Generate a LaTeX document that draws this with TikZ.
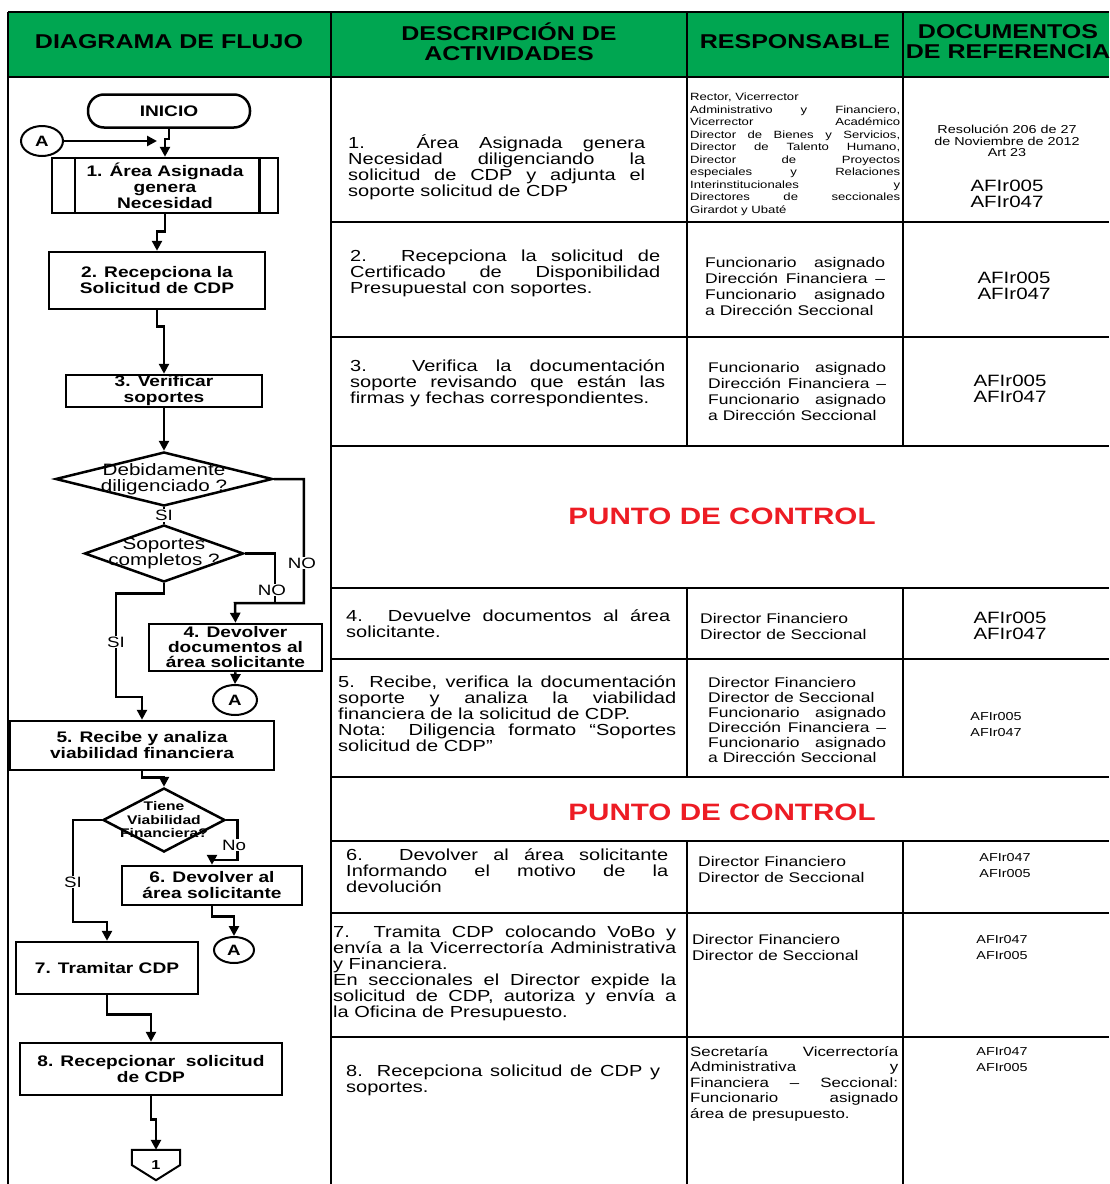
\documentclass[tikz,border=0pt]{standalone}
\usepackage{fontspec}
\setmainfont{Liberation Sans}[FakeStretch=1.25]
\usetikzlibrary{shapes.geometric,arrows.meta}

\definecolor{cabecera}{RGB}{0,166,81}
\definecolor{control}{RGB}{237,28,36}

\newcommand{\tam}[2]{\fontsize{#1}{#2}\selectfont}
\hyphenpenalty=10000
\exhyphenpenalty=10000
\hbadness=10000

\begin{document}
\begin{tikzpicture}[x=1pt,y=-1pt,
    linea/.style={line width=2.5pt},
    caja/.style={draw,line width=2.5pt,align=center,inner sep=0pt,font=\bfseries\tam{15.3}{16}},
    rombo/.style={draw,diamond,line width=2.5pt,inner sep=0pt},
    pregunta/.style={align=center,font=\tam{16.5}{16}},
    conector/.style={draw,ellipse,line width=2pt,inner sep=0pt,minimum width=42,minimum height=30,font=\bfseries\tam{15}{15}},
    flecha/.style={line width=2.5pt,-{Triangle[length=10pt,width=10pt]}},
    etiqueta/.style={fill=white,inner sep=1pt,font=\tam{15}{15}},
    titulo/.style={align=center,inner sep=0pt,font=\bfseries\tam{20}{20}},
    desc/.style={anchor=north west,inner sep=0pt,align=justify,text width=#1,font=\tam{16}{16}},
    resp/.style={anchor=north west,inner sep=0pt,align=justify,text width=#1,font=\tam{14}{16}},
    docs/.style={inner sep=0pt,align=center,font=\tam{16.4}{16}},
    docsmin/.style={inner sep=0pt,align=center,font=\tam{11.5}{16}},
    punto/.style={inner sep=0pt,text=control,font=\bfseries\tam{23.7}{24}},
]
\useasboundingbox (0,0) rectangle (1109,1184);

% Header band
\fill[cabecera] (8,12) rectangle (1109,77);

% Table rules
\draw[linea] (8,12) -- (1109,12);
\draw[linea] (8,77) -- (1109,77);
\draw[linea] (8,12) -- (8,1184);
\draw[linea] (331,12) -- (331,1184);
\foreach \x in {687,903} {
    \draw[linea] (\x,12) -- (\x,446);
    \draw[linea] (\x,588) -- (\x,777);
    \draw[linea] (\x,841) -- (\x,1184);
}
\foreach \y in {222,337,446,588,659,777,841,913,1037}
    \draw[linea] (331,\y) -- (1109,\y);

% Column titles
\node[titulo] (h1) at (169,42) {DIAGRAMA DE FLUJO};
\node[titulo] (h2) at (509,42) {DESCRIPCIÓN DE\\ACTIVIDADES};
\node[titulo] (h3) at (795,42) {RESPONSABLE};
\node[titulo] (h4) at (1008,42) {DOCUMENTOS\\DE REFERENCIA};

% Flow chart
\node[caja,rounded corners=16,minimum width=162,minimum height=33] (inicio) at (169,111) {INICIO};
\node[conector] (a1) at (42,141) {A};
\node[caja,minimum width=226,minimum height=55] (p1) at (165,185.5) {1. Área Asignada\\genera\\Necesidad};
\draw[linea] ([xshift=24pt]p1.north west) -- ([xshift=24pt]p1.south west);
\draw[linea] ([xshift=-20pt]p1.north east) -- ([xshift=-20pt]p1.south east);
\node[caja,minimum width=216,minimum height=57] (p2) at (157,280.5) {2. Recepciona la\\Solicitud de CDP};
\node[caja,minimum width=196,minimum height=32] (p3) at (164,391) {3. Verificar\\soportes};
\node[rombo,minimum width=217,minimum height=54] (r1) at (164,479) {};
\node[pregunta] (t1) at (r1) {Debidamente\\diligenciado ?};
\node[rombo,minimum width=159,minimum height=57] (r2) at (164,553.5) {};
\node[pregunta] (t2) at (r2) {Soportes\\completos ?};
\node[caja,minimum width=173,minimum height=47,font=\bfseries\tam{15.3}{15}] (p4) at (235.5,647.5) {4. Devolver\\documentos al\\área solicitante};
\node[conector,minimum width=44] (a2) at (235,700) {A};
\node[caja,minimum width=264,minimum height=49] (p5) at (142,745.5) {5. Recibe y analiza\\viabilidad financiera};
\node[rombo,minimum width=122,minimum height=64] (r3) at (164,820) {};
\node[align=center,font=\bfseries\tam{12.5}{13.5}] (t3) at (r3) {Tiene\\Viabilidad\\Financiera?};
\node[caja,minimum width=180,minimum height=39] (p6) at (212,885.5) {6. Devolver al\\área solicitante};
\node[conector,minimum width=40,minimum height=26] (a3) at (234,950) {A};
\node[caja,minimum width=182,minimum height=52] (p7) at (107,968) {7. Tramitar CDP};
\node[caja,minimum width=262,minimum height=52] (p8) at (151,1069) {8. Recepcionar\ \ solicitud\\de CDP};
\node[inner sep=0pt,minimum width=48,minimum height=30,font=\bfseries\tam{13}{13}] (f1) at (156,1165) {1};
\draw[line width=2pt] (f1.north west) -- (f1.north east) -- (f1.east) -- (f1.south) -- (f1.west) -- cycle;

% Connectors
\coordinate (e1) at (157,141);
\draw[flecha] (a1.east) -- (e1);
\draw[flecha] (inicio.south) -- ++(0,10) -| (p1.north);
\draw[flecha] (p1.south) -- ++(0,17) -| (p2.north);
\draw[flecha] (p2.south) -- ++(0,16) -| (p3.north);
\draw[flecha] (p3.south) -- (r1.north);
\draw[linea] (r1.south) -- (r2.north) node[midway,etiqueta] (si1) {SI};

\coordinate (n1) at (235,603);
\draw[flecha] (r1.east) -- ++(30,0) |- (n1) -- (p4.north);
\draw[linea] (r2.east) -- ++(30,0) |- (n1);
\node[etiqueta] (no1) at (302,563) {NO};
\node[etiqueta] (no2) at (272,590) {NO};

\coordinate (s1) at (116,697);
\draw[flecha] (r2.south) -- ++(0,10) -| (s1) -| (p5.north);
\node[etiqueta] (si2) at (116,642) {SI};

\draw[flecha] (p4.south) -- (a2.north);
\draw[flecha] (p5.south) -- ++(0,6) -| (r3.north);

\coordinate (n2) at (212,860);
\draw[flecha] (r3.east) -- ++(11,0) |- (n2) -- (p6.north);
\node[etiqueta] (no3) at (234,845) {No};

\coordinate (s2) at (73,922);
\draw[flecha] (r3.west) -| (s2) -| (p7.north);
\node[etiqueta] (si3) at (73,882) {SI};

\draw[flecha] (p6.south) -- ++(0,10) -| (a3.north);
\draw[flecha] (p7.south) -- ++(0,19) -| (p8.north);
\draw[flecha] (p8.south) -- ++(0,23) -| (f1.north);

% Activities
\node[desc=297] (d1) at (348,134) {1. Área Asignada genera\linebreak Necesidad diligenciando la\linebreak solicitud de CDP y adjunta el\linebreak soporte solicitud de CDP};
\node[desc=310] (d2) at (350,250) {2. Recepciona la solicitud de\linebreak Certificado de Disponibilidad\linebreak Presupuestal con soportes.};
\node[desc=315] (d3) at (350,360) {3. Verifica la documentación\linebreak soporte revisando que están las\linebreak firmas y fechas correspondientes.};
\node[desc=324] (d4) at (346,610) {4. Devuelve documentos al área\linebreak solicitante.};
\node[desc=338] (d5) at (338,676) {5. Recibe, verifica la documentación\linebreak soporte y analiza la viabilidad\linebreak financiera de la solicitud de CDP.\\Nota: Diligencia formato “Soportes\linebreak solicitud de CDP”};
\node[desc=322] (d6) at (346,849) {6. Devolver al área solicitante\linebreak Informando el motivo de la\linebreak devolución};
\node[desc=343] (d7) at (333,926) {7. Tramita CDP colocando VoBo y\linebreak envía a la Vicerrectoría Administrativa\linebreak y Financiera.\\En seccionales el Director expide la\linebreak solicitud de CDP, autoriza y envía a\linebreak la Oficina de Presupuesto.};
\node[desc=314] (d8) at (346,1065) {8. Recepciona solicitud de CDP y\linebreak soportes.};

% Responsible
\node[resp=210,font=\tam{10.5}{12.5}] (c1) at (690,93) {Rector, Vicerrector\\Administrativo y Financiero,\linebreak Vicerrector Académico\linebreak Director de Bienes y Servicios,\linebreak Director de Talento Humano,\linebreak Director de Proyectos\linebreak especiales y Relaciones\linebreak Interinstitucionales y\linebreak Directores de seccionales\linebreak Girardot y Ubaté};
\node[resp=180] (c2) at (705,257) {Funcionario asignado\linebreak Dirección Financiera –\linebreak Funcionario asignado\linebreak a Dirección Seccional};
\node[resp=178] (c3) at (708,362) {Funcionario asignado\linebreak Dirección Financiera –\linebreak Funcionario asignado\linebreak a Dirección Seccional};
\node[resp=190] (c4) at (700,613) {Director Financiero\\Director de Seccional};
\node[resp=178,font=\tam{14}{15}] (c5) at (708,677) {Director Financiero\\Director de Seccional\\Funcionario asignado\linebreak Dirección Financiera –\linebreak Funcionario asignado\linebreak a Dirección Seccional};
\node[resp=190] (c6) at (698,856) {Director Financiero\\Director de Seccional};
\node[resp=190] (c7) at (692,934) {Director Financiero\\Director de Seccional};
\node[resp=208,font=\tam{13.5}{15.5}] (c8) at (690,1046) {Secretaría Vicerrectoría\linebreak Administrativa y\linebreak Financiera – Seccional:\linebreak Funcionario asignado\linebreak área de presupuesto.};

% Reference documents
\node[docsmin,font=\tam{11.5}{11.5}] (r1a) at (1007,141) {Resolución 206 de 27\\de Noviembre de 2012\\Art 23};
\node[docs] (r1b) at (1007,194) {AFIr005\\AFIr047};
\node[docs] (r2d) at (1014,286) {AFIr005\\AFIr047};
\node[docs] (r3d) at (1010,389) {AFIr005\\AFIr047};
\node[docs] (r4d) at (1010,626) {AFIr005\\AFIr047};
\node[docsmin] (r5d) at (996,725) {AFIr005\\AFIr047};
\node[docsmin] (r6d) at (1005,866) {AFIr047\\AFIr005};
\node[docsmin] (r7d) at (1002,948) {AFIr047\\AFIr005};
\node[docsmin] (r8d) at (1002,1060) {AFIr047\\AFIr005};

% Control points
\node[punto] (pc1) at (722,516) {PUNTO DE CONTROL};
\node[punto] (pc2) at (722,812) {PUNTO DE CONTROL};
\end{tikzpicture}
\end{document}
